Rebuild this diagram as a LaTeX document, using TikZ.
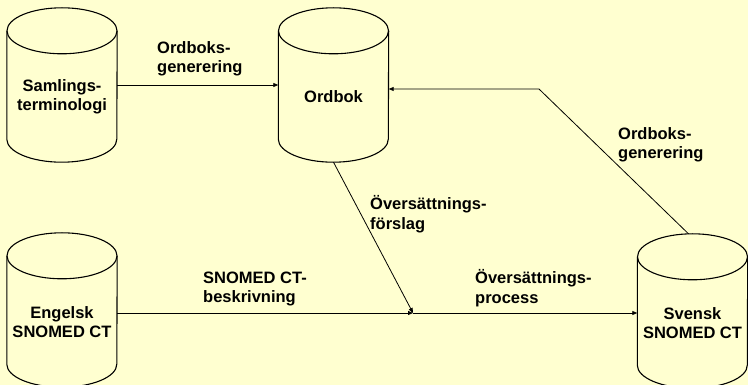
\documentclass[tikz,border=0pt]{standalone}
\usepackage{fontspec}
\setmainfont{Liberation Sans}
\usetikzlibrary{positioning,arrows.meta,calc}
\definecolor{bakgrund}{RGB}{255,255,208}
\tikzset{
	>={Triangle[length=5pt,width=4pt]},
	databasbox/.style={
		rectangle,
		minimum width=110pt,
		minimum height=154pt,
		inner sep=0pt},
	kant/.style={draw=black, line width=1.1pt},
	pil/.style={draw, line width=0.8pt, ->},
	databastext/.style={
		inner sep=0pt,
		align=center,
		font=\bfseries\fontsize{16.5}{19.5}\selectfont},
	etikett/.style={
		anchor=west,
		inner sep=0pt,
		align=left,
		font=\bfseries\fontsize{16.5}{19.5}\selectfont},
}
\newcommand*\databas[3]{%
	\node[databasbox] (#1) at (#2) {};
	\draw[kant] ([yshift=-23pt]#1.north) ellipse [x radius=55pt, y radius=23pt];
	\draw[kant] ([yshift=-23pt]#1.north west) -- ([yshift=23pt]#1.south west)
		arc [start angle=180, end angle=360, x radius=55pt, y radius=23pt]
		-- ([yshift=-23pt]#1.north east);
	\node[databastext] (#1-text) at ([yshift=-12pt]#1.center) {#3};}

\begin{document}
\begin{tikzpicture}[x=1pt,y=-1pt]
\fill[bakgrund] (0,0) rectangle (748,385);
\useasboundingbox (0,0) rectangle (748,385);

\databas{saml}{62,85}{Samlings-\\terminologi}
\databas{ordbok}{333.5,85}{Ordbok}
\databas{engelsk}{62,310}{Engelsk\\SNOMED CT}
\databas{svensk}{692.5,311}{Svensk\\SNOMED CT}

\coordinate (mix) at (413,313);
\coordinate (knack) at (539,89);

\draw[pil] (saml.east) -- (ordbok.west);
\draw[pil] ([xshift=-4pt]svensk.north) -- (knack) -- (knack -| ordbok.east);
\draw[pil] (ordbok.south) -- (mix);
\draw[pil] (engelsk.east |- mix) -- (mix);
\draw[pil] (mix) -- (svensk.west |- mix);

\node[etikett] (gen1) at (157,59) {Ordboks-\\generering};
\node[etikett] (gen2) at (618,145) {Ordboks-\\generering};
\node[etikett] (forslag) at (370,214) {Översättnings-\\förslag};
\node[etikett] (beskr) at (203,289) {SNOMED CT-\\beskrivning};
\node[etikett] (process) at (475,288) {Översättnings-\\process};
\end{tikzpicture}
\end{document}
